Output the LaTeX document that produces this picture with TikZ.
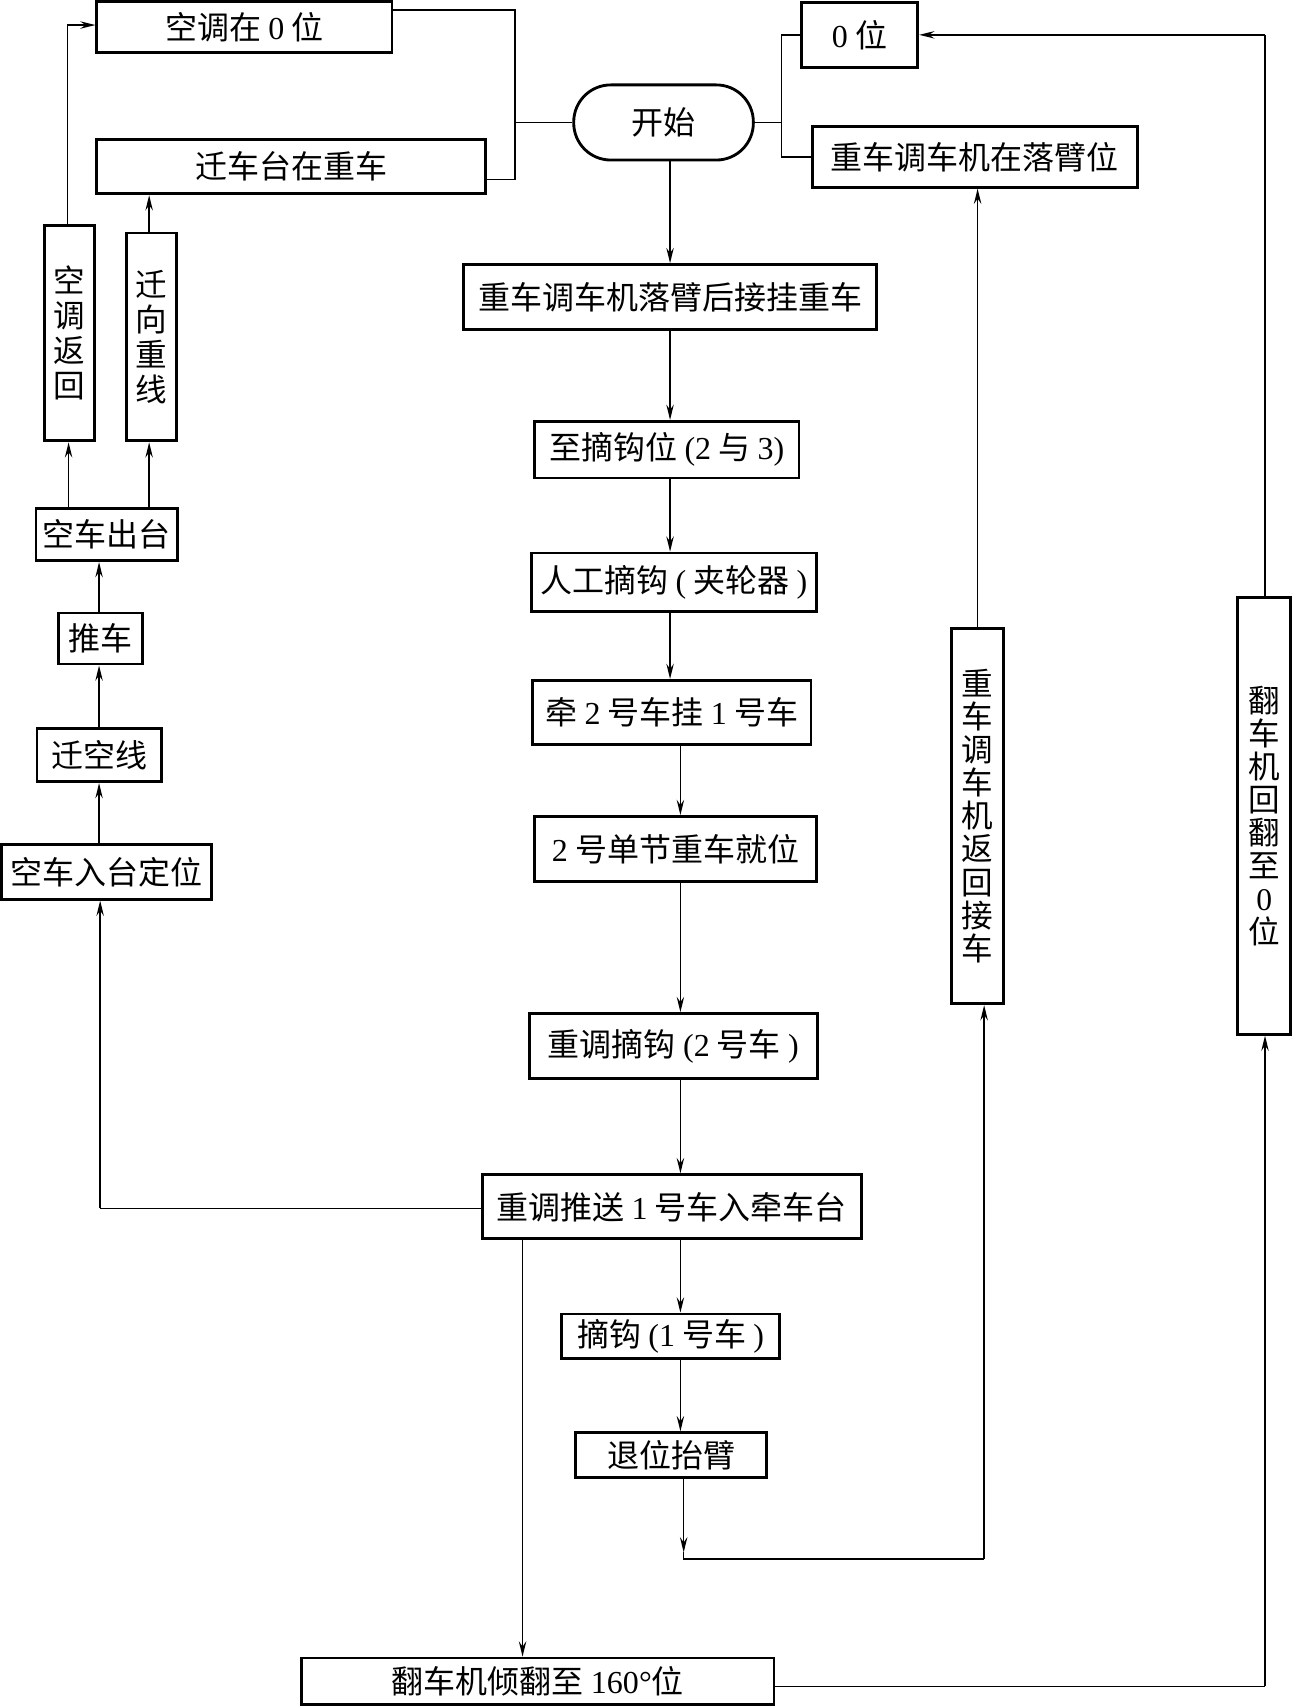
\documentclass[tikz,border=0pt]{standalone}
\usepackage{fontspec}
\setmainfont{Noto Sans CJK SC}
\newfontfamily\serif{Liberation Serif}
\usetikzlibrary{arrows.meta}
\newcommand\dg[1]{{\serif #1}}
\begin{document}
\begin{tikzpicture}[x=0.5pt,y=-0.5pt,
  box/.style={draw,line width=1.3pt,inner sep=0pt,font=\fontsize{14.7}{16}\selectfont,align=center},
  vbox/.style={box,font=\fontsize{14.5}{15.2}\selectfont},
  sz/.style 2 args={minimum width=#1*0.5pt,minimum height=#2*0.5pt},
  conn/.style={line width=0.75pt},
  arr/.style={conn,-{Stealth[length=7pt,width=3.4pt,inset=2.4pt]}}]
\useasboundingbox (0,0) rectangle (1187,1568);

% ---- nodes ----
\node[box,sz={271}{46.5}] (kt0) at (224.5,24.75) {空调在 \dg{0} 位};
\node[box,sz={357}{50}] (qct) at (267.5,153) {迁车台在重车};
\node[box,sz={165}{69},rounded corners=17pt] (start) at (609.5,112.5) {开始};
\node[box,sz={107}{60}] (zero) at (789.5,32) {\dg{0} 位};
\node[box,sz={299}{56}] (zcl) at (895.5,144) {重车调车机在落臂位};
\node[box,sz={379}{60}] (b1) at (615.5,273) {重车调车机落臂后接挂重车};
\node[box,sz={243}{52}] (b2) at (612.5,413) {至摘钩位 \dg{(2} 与 \dg{3)}};
\node[box,sz={262}{54}] (b3) at (619,535) {人工摘钩 \dg{(} 夹轮器 \dg{)}};
\node[box,sz={256}{59}] (b4) at (617,654.5) {牵 \dg{2} 号车挂 \dg{1} 号车};
\node[box,sz={259}{60}] (b5) at (620.5,780) {\dg{2} 号单节重车就位};
\node[box,sz={265}{60}] (b6) at (618.5,961) {重调摘钩 \dg{(2} 号车 \dg{)}};
\node[box,sz={348}{59}] (b7) at (617,1108.5) {重调推送 \dg{1} 号车入牵车台};
\node[box,sz={200}{41}] (b8) at (616,1227.5) {摘钩 \dg{(1} 号车 \dg{)}};
\node[box,sz={175}{41}] (b9) at (616.5,1336.5) {退位抬臂};
\node[box,sz={434}{43}] (b10) at (494,1544.5) {翻车机倾翻至 \dg{160°}位};

\node[vbox,sz={46}{198},font=\fontsize{14.5}{16}\selectfont] (kfh) at (64,306) {空\\调\\返\\回};
\node[vbox,sz={46}{191},font=\fontsize{14.5}{16}\selectfont] (qxz) at (139,309.5) {迁\\向\\重\\线};
\node[box,sz={130}{48}] (kcct) at (98,491) {空车出台};
\node[box,sz={77}{47}] (tc) at (92.5,586.5) {推车};
\node[box,sz={114}{49}] (qkx) at (91,693.5) {迁空线};
\node[box,sz={192.5}{50}] (kcrt) at (97.75,801) {空车入台定位};
\node[vbox,sz={48}{345}] (zfh) at (898,749.5) {重\\车\\调\\车\\机\\返\\回\\接\\车};
\node[vbox,sz={48.5}{401}] (fhf) at (1161.25,749.5) {翻\\车\\机\\回\\翻\\至\\\dg{0}\\位};

% ---- helper coordinates ----
\coordinate (t9) at (0,9);
\coordinate (t165) at (0,165);
\coordinate (jl) at (473,112.5);
\coordinate (jr) at (718,112.5);
\coordinate (cx) at (625,0);
\coordinate (d0) at (628,1426);
\coordinate (d1) at (628,1432);
\coordinate (d2) at (904,1432);
\coordinate (e1) at (1162,1549);
\coordinate (f1) at (1162,32);
\coordinate (g1) at (92,1110);
\coordinate (h1) at (62,23);

% ---- connectors: start to top boxes ----
\draw[conn] (start.west) -- (jl);
\draw[conn] (kt0.east |- t9) -- (jl |- t9) -- (jl |- t165) -- (qct.east |- t165);
\draw[conn] (start.east) -- (jr);
\draw[conn] (zero.west) -- (jr |- zero.west) -- (jr |- zcl.west) -- (zcl.west);

% ---- main column ----
\draw[arr] (start.south -| b1.north) -- (b1.north);
\draw[arr] (b1.south) -- (b1.south |- b2.north);
\draw[arr] (b1.south |- b2.south) -- (b1.south |- b3.north);
\draw[arr] (b1.south |- b3.south) -- (b1.south |- b4.north);
\draw[arr] (cx |- b4.south) -- (cx |- b5.north);
\draw[arr] (cx |- b5.south) -- (cx |- b6.north);
\draw[arr] (cx |- b6.south) -- (cx |- b7.north);
\draw[arr] (cx |- b7.south) -- (cx |- b8.north);
\draw[arr] (cx |- b8.south) -- (cx |- b9.north);

% ---- return of shunting machine ----
\draw[arr] (d0 |- b9.south) -- (d0);
\draw[conn] (d0) -- (d1) -- (d2);
\draw[arr] (d2) -- (d2 |- zfh.south);
\draw[arr] (zfh.north) -- (zfh.north |- zcl.south);

% ---- tippler ----
\draw[arr] (480,0 |- b7.south) -- (480,0 |- b10.north);
\draw[conn] (b10.east |- e1) -- (e1);
\draw[arr] (e1) -- (e1 |- fhf.south);
\draw[conn] (fhf.north -| f1) -- (f1);
\draw[arr] (f1) -- (zero.east);

% ---- empty car path ----
\draw[conn] (b7.west |- g1) -- (g1);
\draw[arr] (g1) -- (g1 |- kcrt.south);
\draw[arr] (91,0 |- kcrt.north) -- (91,0 |- qkx.south);
\draw[arr] (91,0 |- qkx.north) -- (91,0 |- tc.south);
\draw[arr] (91,0 |- tc.north) -- (91,0 |- kcct.south);
\draw[arr] (63,0 |- kcct.north) -- (63,0 |- kfh.south);
\draw[arr] (137,0 |- kcct.north) -- (137,0 |- qxz.south);
\draw[conn] (h1 |- kfh.north) -- (h1);
\draw[arr] (h1) -- (kt0.west |- h1);
\draw[arr] (137,0 |- qxz.north) -- (137,0 |- qct.south);
\end{tikzpicture}
\end{document}
